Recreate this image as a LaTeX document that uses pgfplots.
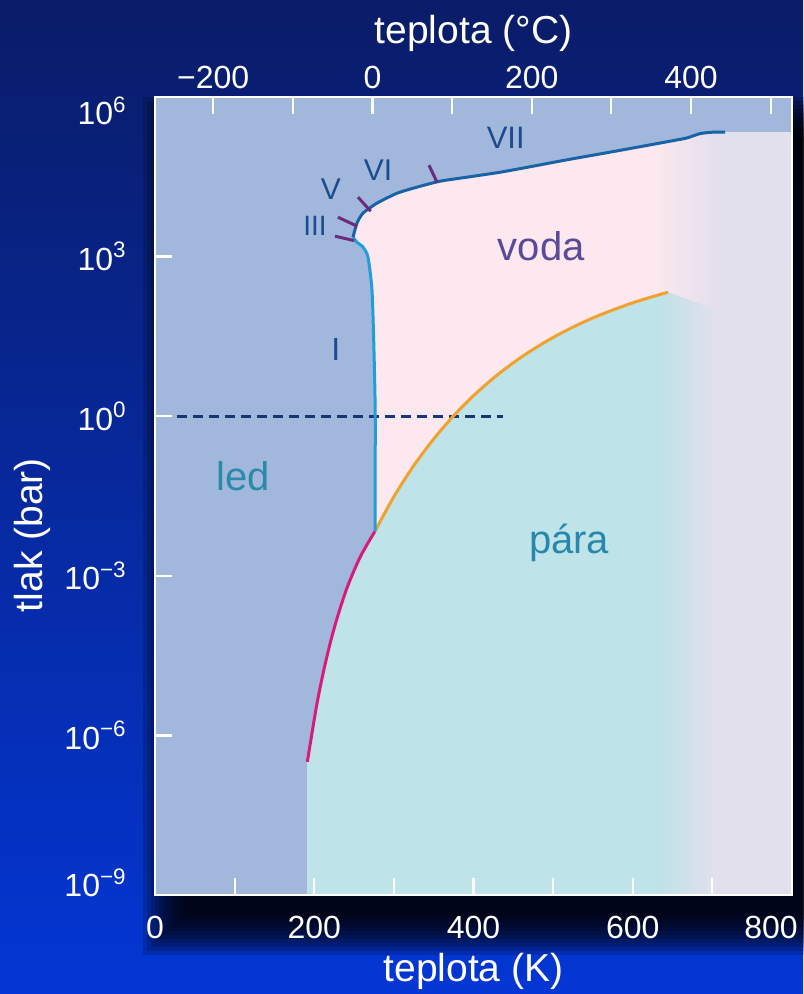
\documentclass[border=0pt]{standalone}
\usepackage{pgfplots}
\pgfplotsset{compat=1.18}
\usepackage{fontspec}
\setmainfont{Liberation Sans}
\usetikzlibrary{fadings}
\definecolor{iceblue}{HTML}{A1B8DC}
\definecolor{liqpink}{HTML}{FCE8EE}
\definecolor{vapcyan}{HTML}{BEE3E8}
\definecolor{lav}{HTML}{E3E0EE}
\definecolor{orcol}{HTML}{F0A22E}
\definecolor{magcol}{HTML}{D81B7A}
\definecolor{meltcol}{HTML}{1F9ED8}
\definecolor{viicol}{HTML}{1A62A6}
\definecolor{markcol}{HTML}{6B2B7F}
\definecolor{romcol}{HTML}{1D4B8E}
\definecolor{dashcol}{HTML}{17367A}
\definecolor{ledcol}{HTML}{2A8AA8}
\definecolor{vodacol}{HTML}{5A4A98}
\definecolor{paracol}{HTML}{2888AC}
\definecolor{bgtop}{HTML}{0A1C68}
\definecolor{bgmid}{HTML}{0629A0}
\definecolor{bgbot}{HTML}{0336D4}
\tikzfading[name=fadeR, left color=transparent!100, right color=transparent!0]
\begin{document}
\begin{tikzpicture}
\path[use as bounding box] (-77.5pt,-49.5pt) rectangle (324pt,447.5pt);
\shade[top color=bgtop, middle color=bgmid, bottom color=bgbot] (-77.5pt,-49.5pt) rectangle (324pt,447.5pt);
\foreach \e in {0,2,...,20} {
  \fill[black, opacity=0.16] ({(14-\e)*1pt},{(-10-\e)*1pt}) rectangle ({(332.5+\e)*1pt},{(379+\e)*1pt});
}
\begin{axis}[
  at={(0,0)}, anchor=south west,
  scale only axis, width=318.5pt, height=399pt,
  xmin=0, xmax=800, ymode=log, ymin=1e-9, ymax=1e6,
  axis background/.style={fill=iceblue},
  axis line style={white, line width=1.3pt},
  axis on top,
  tick align=inside,
  major tick length=8.5pt,
  tick style={white, line width=1.1pt},
  xtick pos=bottom, ytick pos=left,
  xminorticks=false, yminorticks=false,
  xtick={0,100,...,800},
  xticklabels={0,,200,,400,,600,,\hspace*{-21pt}800},
  ytick={1e-9,1e-6,1e-3,1,1e3,1e6},
  yticklabels={\raisebox{-0.8pt}[0pt][0pt]{10\textsuperscript{−9}},10\textsuperscript{−6},10\textsuperscript{−3},10\textsuperscript{0},10\textsuperscript{3},\raisebox{-13.8pt}[0pt][0pt]{10\textsuperscript{6}}},
  ticklabel style={white, font=\fontsize{16}{16}\selectfont, inner sep=0pt},
  xticklabel style={anchor=center, yshift=-16pt},
  yticklabel style={anchor=east, xshift=-14pt},
  xlabel={teplota (K)}, ylabel={tlak (bar)},
  label style={white, font=\fontsize{19.5}{20}\selectfont},
  xlabel style={at={(axis description cs:0.5,-0.096)}, anchor=center},
  ylabel style={at={(axis description cs:-0.193,0.451)}, anchor=center},
]
% non-ice region (liquid colour)
\addplot[draw=none, fill=liqpink] coordinates {
 (191.3,1e-9) (191.3,3.18e-7) (202.7,3.44e-6) (211.1,1.46e-5) (219.9,5.33e-5) (229.2,1.69e-4) (241.6,6.18e-4) (257.8,2.27e-3) (276.3,6.9e-3)
 (276.6,1) (275.0,17.4) (272.5,234) (267.5,977) (261.2,1510) (253.7,1860) (248.7,2320)
 (253.7,4250) (261.2,6550) (278.8,1.01e4) (303.9,1.55e4) (329.0,2.02e4) (357.9,2.61e4) (391.8,3.11e4) (433.3,3.85e4) (474.7,5.0e4) (517.4,6.6e4) (558.9,8.5e4) (600.3,1.10e5) (650.5,1.51e5) (668.1,1.70e5) (684.5,2.05e5) (700.8,2.18e5) (715.9,2.18e5)
 (800,2.18e5) (800,1e-9)} -- cycle;
% vapour
\addplot[draw=none, fill=vapcyan] coordinates {
 (191.3,1e-9) (191.3,3.18e-7) (202.7,3.44e-6) (211.1,1.46e-5) (219.9,5.33e-5) (229.2,1.69e-4) (241.6,6.18e-4) (257.8,2.27e-3) (276.3,6.9e-3)
 (300,0.0307) (325,0.1178) (350,0.373) (375,1.016) (400,2.43) (430,5.98) (460,12.88) (490,24.8) (520,43.5) (550,70.3) (580,105.9) (610,151.4) (644.3,214)
 (706,100) (706,1e-9)} -- cycle;
% supercritical
\addplot[draw=none, fill=lav, path fading=fadeR] coordinates {
 (630,1e-9) (705,1e-9) (705,2.18e5) (700.8,2.18e5) (684.5,2.05e5) (668.1,1.70e5) (650.5,1.51e5) (630,1.32e5)} -- cycle;
\addplot[draw=none, fill=lav] coordinates {
 (704,1e-9) (800,1e-9) (800,2.18e5) (704,2.18e5)} -- cycle;
% 1 bar
\addplot[dashcol, line width=1.6pt, dash pattern=on 5pt off 3pt] coordinates {(27.6,1) (437,1)};
% curves
\addplot[magcol, line width=1.5pt, smooth, tension=0.5] coordinates {
 (191.3,3.18e-7) (202.7,3.44e-6) (211.1,1.46e-5) (219.9,5.33e-5) (229.2,1.69e-4) (241.6,6.18e-4) (257.8,2.27e-3) (276.3,6.9e-3)};
\addplot[orcol, line width=1.5pt, smooth, tension=0.5] coordinates {
 (276.3,6.9e-3) (300,0.0307) (325,0.1178) (350,0.373) (375,1.016) (400,2.43) (430,5.98) (460,12.88) (490,24.8) (520,43.5) (550,70.3) (580,105.9) (610,151.4) (644.3,214)};
\addplot[meltcol, line width=1.5pt, smooth, tension=0.4] coordinates {
 (276.3,6.9e-3) (276.6,1) (275.0,17.4) (272.5,234) (267.5,977) (261.2,1510) (253.7,1860) (248.7,2320)};
\addplot[viicol, line width=1.5pt, smooth, tension=0.4] coordinates {
 (248.7,2320) (253.7,4250) (261.2,6550) (278.8,1.01e4) (303.9,1.55e4) (329.0,2.02e4) (357.9,2.61e4) (391.8,3.11e4) (433.3,3.85e4) (474.7,5.0e4) (517.4,6.6e4) (558.9,8.5e4) (600.3,1.10e5) (650.5,1.51e5) (668.1,1.70e5) (684.5,2.05e5) (700.8,2.18e5) (715.9,2.18e5)};
% phase markers
\addplot[markcol, line width=1.5pt] coordinates {(226.1,2420) (249.9,2000)};
\addplot[markcol, line width=1.5pt] coordinates {(229.8,5500) (253.7,3740)};
\addplot[markcol, line width=1.5pt] coordinates {(254.9,1.31e4) (270.9,7130)};
\addplot[markcol, line width=1.5pt] coordinates {(344.1,5.22e4) (354.2,2.5e4)};
% labels
\node[romcol, font=\fontsize{14}{14}\selectfont, anchor=base] at (axis cs:201,2515) {III};
\node[romcol, font=\fontsize{15}{15}\selectfont, anchor=base] at (axis cs:221,1.2e4) {V};
\node[romcol, font=\fontsize{15}{15}\selectfont, anchor=base] at (axis cs:280,2.73e4) {VI};
\node[romcol, font=\fontsize{15.5}{15.5}\selectfont, anchor=base] at (axis cs:440.5,1.09e5) {VII};
\node[romcol, font=\fontsize{16}{16}\selectfont, anchor=base] at (axis cs:227,11.3) {I};
\node[ledcol, font=\fontsize{20}{20}\selectfont, anchor=base] at (axis cs:110.5,0.0406) {led};
\node[vodacol, font=\fontsize{20}{20}\selectfont, anchor=base] at (axis cs:485,855) {voda};
\node[paracol, font=\fontsize{20}{20}\selectfont, anchor=base] at (axis cs:520,2.66e-3) {pára};
\end{axis}
\begin{axis}[
  at={(0,0)}, anchor=south west,
  scale only axis, width=318.5pt, height=399pt,
  xmin=0, xmax=800, ymin=0, ymax=1,
  axis x line*=top, hide y axis,
  axis line style={white, line width=1.3pt},
  tick align=inside,
  major tick length=8.5pt,
  tick style={white, line width=1.1pt},
  xminorticks=false,
  xtick={73.15,173.15,273.15,373.15,473.15,573.15,673.15,773.15},
  xticklabels={−200,,0,,200,,400,},
  ticklabel style={white, font=\fontsize{16}{16}\selectfont, inner sep=0pt},
  xticklabel style={anchor=center, yshift=10pt},
  xlabel={teplota (°C)},
  label style={white, font=\fontsize{19.5}{20}\selectfont},
  xlabel style={at={(axis description cs:0.5,1.080)}, anchor=center},
]
\addplot[draw=none] coordinates {(0,0)};
\end{axis}
\end{tikzpicture}
\end{document}
